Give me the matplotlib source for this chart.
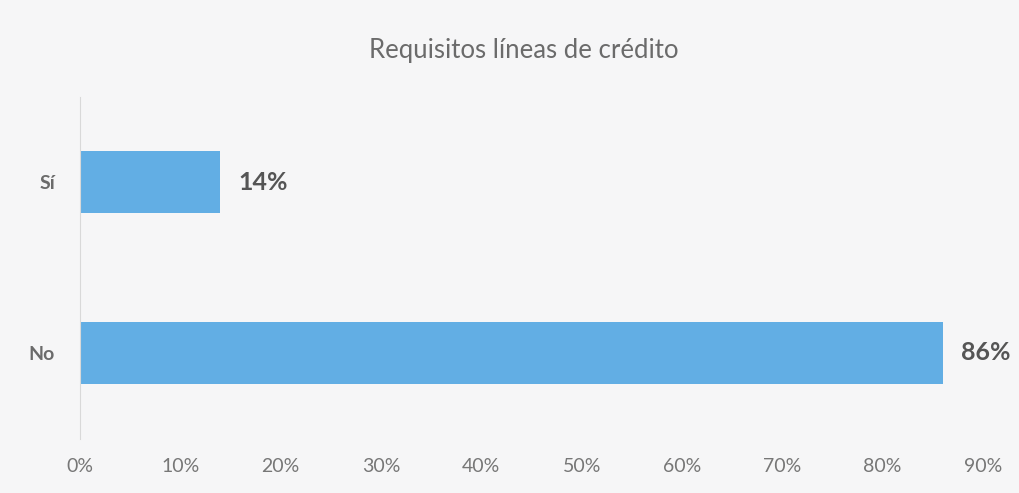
import matplotlib
matplotlib.use("Agg")
import matplotlib.pyplot as plt
from matplotlib.ticker import FuncFormatter, MultipleLocator

categories = ["No", "Sí"]
values = [0.86, 0.14]
title = "Requisitos líneas de crédito"

bar_color = "#62AEE4"
text_color = "#6B6B6B"
label_color = "#555555"
bg = "#F6F6F7"

fig = plt.figure(figsize=(10.19, 4.93), dpi=100)
fig.patch.set_facecolor(bg)
ax = fig.add_axes([80/1019, 54.5/493, (983-80)/1019, (396.5-54.5)/493])
ax.set_facecolor(bg)

y = range(len(categories))
ax.barh(y, values, height=0.36, color=bar_color)
ax.set_xlim(0, 0.9)
ax.set_ylim(-0.5, 1.5)
ax.set_yticks(list(y))
ax.set_yticklabels(categories, fontsize=14, fontweight="bold", color=text_color, family="Lato")
ax.xaxis.set_major_locator(MultipleLocator(0.1))
ax.xaxis.set_major_formatter(FuncFormatter(lambda v, p: f"{v*100:.0f}%"))
for lab in ax.get_xticklabels():
    lab.set_fontsize(14)
    lab.set_color("#777777")
    lab.set_family("Lato")
ax.tick_params(axis="x", length=0, pad=14)
ax.tick_params(axis="y", length=0, pad=18)
for s in ["top", "right", "bottom"]:
    ax.spines[s].set_visible(False)
ax.spines["left"].set_color("#D9D9D9")
ax.spines["left"].set_linewidth(0.8)

for yi, v in zip(y, values):
    ax.text(v + 0.018, yi, f"{v*100:.0f}%", va="center", ha="left",
            fontsize=18, fontweight="bold", color=label_color, family="Lato")

fig.text(0.514, 0.898, title, ha="center", va="center", fontsize=18.5,
         color=text_color, family="Lato")

fig.savefig("out.png", dpi=100, facecolor=bg)
